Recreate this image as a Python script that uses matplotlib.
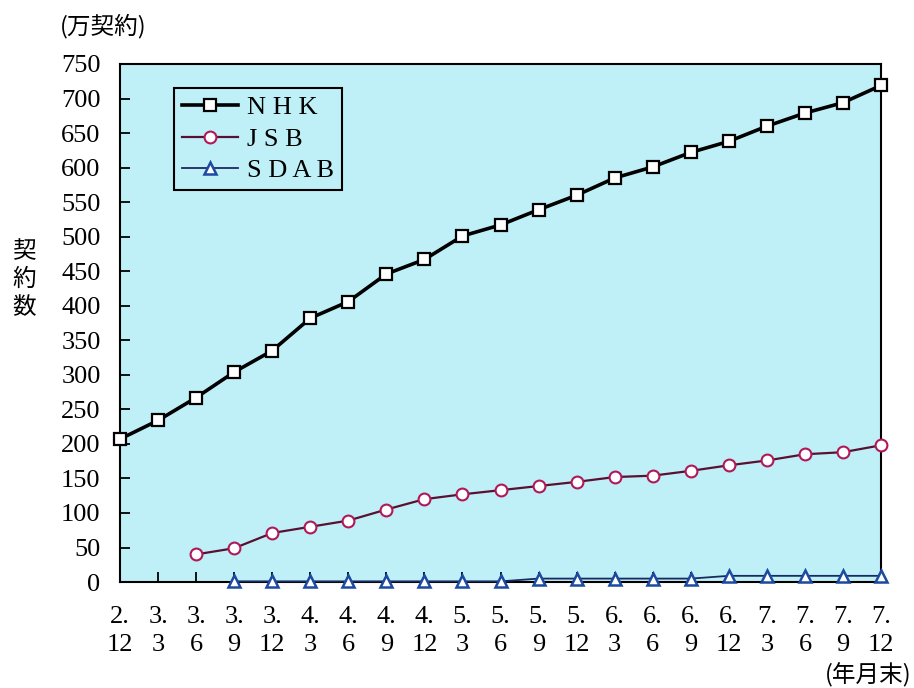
import matplotlib
matplotlib.use("Agg")
import matplotlib.pyplot as plt
import numpy as np

# -----------------------------
# Data (万契約, 年月末)
# -----------------------------
years = ["2", "3", "3", "3", "3", "4", "4", "4", "4", "5", "5",
         "5", "5", "6", "6", "6", "6", "7", "7", "7", "7"]
months = ["12", "3", "6", "9", "12", "3", "6", "9", "12", "3", "6",
          "9", "12", "3", "6", "9", "12", "3", "6", "9", "12"]

nhk = [207, 234, 267, 304, 335, 382, 406, 446, 467, 501, 517,
       539, 560, 585, 601, 622, 638, 660, 679, 694, 719]
jsb = [None, None, 40, 49, 71, 80, 89, 105, 120, 127, 133,
       139, 145, 152, 154, 161, 169, 176, 185, 188, 198]
sdab = [None, None, None, 1, 1, 1, 1, 1, 1, 1, 1,
        5, 5, 5, 5, 5, 9, 9, 9, 9, 9]

yticks = list(range(0, 751, 50))

# -----------------------------
# Plot
# -----------------------------
serif = ["Liberation Serif", "DejaVu Serif"]
cjk = ["Noto Sans CJK JP", "DejaVu Sans"]

fig = plt.figure(figsize=(9.14, 6.88), dpi=100)
ax = fig.add_axes([0.1313, 0.154, 0.8327, 0.753])
ax.set_facecolor("#bff0f8")

x = np.arange(len(months))


def to_arr(vals):
    return np.array([np.nan if v is None else v for v in vals], dtype=float)


ax.plot(x, to_arr(sdab), color="#1a2a60", lw=1.3, marker="^", ms=9,
        mfc="white", mec="#1c4aa0", mew=1.8, clip_on=False, zorder=3,
        label="S D A B")
ax.plot(x, to_arr(jsb), color="#5a1030", lw=1.6, marker="o", ms=8.5,
        mfc="white", mec="#b01858", mew=1.5, clip_on=False, zorder=4,
        label="J S B")
ax.plot(x, to_arr(nhk), color="black", lw=2.6, marker="s", ms=8.5,
        mfc="white", mec="black", mew=1.6, clip_on=False, zorder=5,
        label="N H K")

ax.set_xlim(0, len(months) - 1)
ax.set_ylim(0, 750)
ax.set_yticks(yticks)
ax.set_yticklabels([str(v) for v in yticks], family=serif, fontsize=19)
ax.set_xticks(x)
ax.set_xticklabels([f"{y}.\n{m}" for y, m in zip(years, months)],
                   family=serif, fontsize=19, linespacing=1.35)
ax.tick_params(axis="y", direction="in", length=7, width=1.3, pad=14)
ax.tick_params(axis="x", direction="in", length=7, width=1.3, pad=17)
for s in ax.spines.values():
    s.set_linewidth(1.5)
    s.set_color("black")

handles, labels = ax.get_legend_handles_labels()
leg = ax.legend(handles[::-1], labels[::-1], loc="upper left",
                bbox_to_anchor=(0.054, 0.979), frameon=True, fancybox=False,
                edgecolor="black", facecolor="#bff0f8", framealpha=1,
                prop={"family": serif, "size": 19}, handlelength=2.1,
                handletextpad=0.35, borderpad=0.3, labelspacing=0.3)
leg.get_frame().set_linewidth(1.5)

fig.text(0.066, 0.962, "(万契約)", family=cjk, fontsize=17, va="center")
fig.text(0.026, 0.634, "契", family=cjk, fontsize=17, ha="center", va="center")
fig.text(0.026, 0.594, "約", family=cjk, fontsize=17, ha="center", va="center")
fig.text(0.026, 0.553, "数", family=cjk, fontsize=17, ha="center", va="center")
fig.text(0.997, 0.018, "(年月末)", family=cjk, fontsize=17, ha="right",
         va="center")

fig.savefig("out.png", dpi=100)
